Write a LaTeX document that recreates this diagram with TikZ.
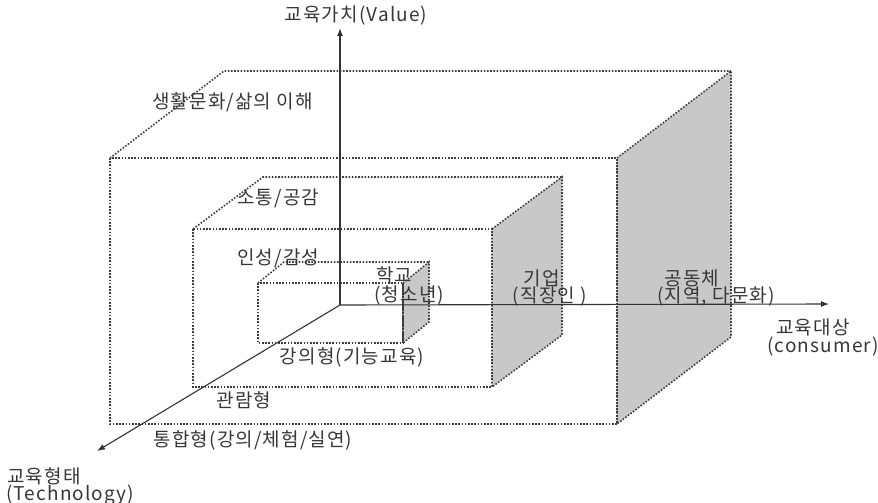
\documentclass[tikz,border=0pt]{standalone}
\usepackage{fontspec}
\setmainfont{Noto Sans CJK KR}[LetterSpace=6]
\usetikzlibrary{arrows.meta}
\definecolor{facegray}{RGB}{200,200,200}
\definecolor{edgegray}{RGB}{60,60,60}
\definecolor{textgray}{RGB}{55,55,55}
\tikzset{dotline/.style={draw=edgegray,line width=1.6pt,dash pattern=on 1.6pt off 1.6pt},
         face/.style={dotline,fill=facegray},
         axis/.style={draw=black!80,line width=1.1pt,-{Latex[length=8pt,width=6pt]}},
         lbl/.style={inner sep=0pt,text=textgray,font=\fontsize{19}{20}\selectfont},
         }
% left, top, right, bottom, depth x, depth y
\newcommand{\openbox}[6]{%
  \path[face] (#3,#2) -- (#3+#5,#2-#6) -- (#3+#5,#4-#6) -- (#3,#4) -- cycle;
  \draw[dotline] (#1,#2) rectangle (#3,#4);
  \draw[dotline] (#1,#2) -- (#1+#5,#2-#6) -- (#3+#5,#2-#6);
}

\begin{document}
\begin{tikzpicture}[x=1pt,y=-1pt]
		\useasboundingbox (0,0) rectangle (878,503);
		% boxes, outer to inner
		\openbox{110}{158}{617}{424}{114}{87}
		\openbox{193}{229}{492}{387}{70}{52}
		\openbox{258}{283}{403}{343}{26}{21}
		% axes
		\coordinate (o) at (340,305);
		\coordinate (vtop) at (340,28);
		\coordinate (xend) at (829,304);
		\coordinate (tend) at (97,451);
		\draw[axis] (o) -- (vtop);
		\draw[axis] (o) -- (xend);
		\draw[axis] (o) -- (tend);
		% labels
		\node[lbl] (value) at (356,16) {교육가치(Value)};
		\node[lbl,anchor=west] (life) at (152,102) {생활문화/삶의 이해};
		\node[lbl,anchor=west] (comm) at (237,198) {소통/공감};
		\node[lbl,anchor=west] (char) at (237,258) {인성/감성};
		\node[lbl,anchor=west] (school) at (376,275) {학교};
		\node[lbl,anchor=west] (schoolsub) at (374,295) {(청소년)};
		\node[lbl] (company) at (542,278) {기업};
		\node[lbl] (companysub) at (550,297) {(직장인 )};
		\node[lbl] (commun) at (692,278) {공동체};
		\node[lbl] (communsub) at (716,297) {(지역, 다문화)};
		\node[lbl] (target) at (813,327) {교육대상};
		\node[lbl] (targetsub) at (823,347) {(consumer)};
		\node[lbl] (lecture) at (352,357) {강의형(기능교육)};
		\node[lbl] (view) at (244,400) {관람형};
		\node[lbl] (integ) at (253,440) {통합형(강의/체험/실연)};
		\node[lbl,anchor=west] (form) at (7,476) {교육형태};
		\node[lbl,anchor=west] (formsub) at (6,495) {(Technology)};
\end{tikzpicture}
\end{document}
